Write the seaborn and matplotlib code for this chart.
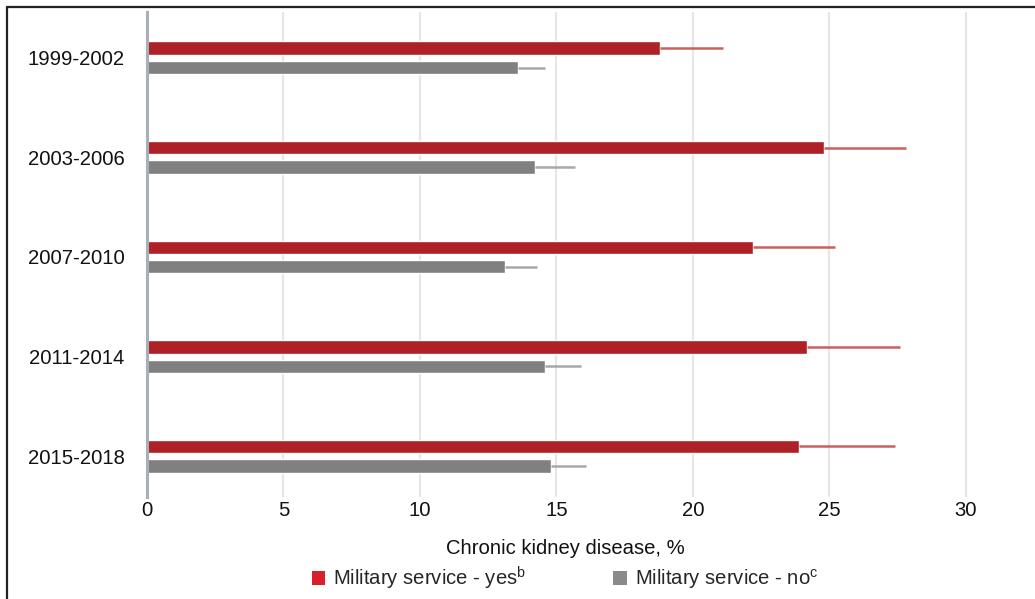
import matplotlib
matplotlib.use("Agg")
import matplotlib.pyplot as plt
import seaborn as sns
import pandas as pd
import numpy as np
from matplotlib.patches import Patch
from matplotlib.lines import Line2D

periods = ["1999-2002", "2003-2006", "2007-2010", "2011-2014", "2015-2018"]
series_names = ["Military service - yes", "Military service - no"]
yes_values = [18.8, 24.8, 22.2, 24.2, 23.9]
yes_upper = [21.1, 27.8, 25.2, 27.6, 27.4]
no_values = [13.6, 14.2, 13.1, 14.6, 14.8]
no_upper = [14.6, 15.7, 14.3, 15.9, 16.1]
x_ticks = [0, 5, 10, 15, 20, 25, 30]
legend_labels = [r"Military service - yes$^{\mathrm{b}}$", r"Military service - no$^{\mathrm{c}}$"]

sns.set_theme(style="white")
plt.rcParams["font.family"] = ["Liberation Sans", "DejaVu Sans"]
plt.rcParams["mathtext.fontset"] = "custom"
plt.rcParams["mathtext.rm"] = "Liberation Sans"

df = pd.DataFrame({
    "period": periods * 2,
    "group": [series_names[0]] * len(periods) + [series_names[1]] * len(periods),
    "value": yes_values + no_values,
})

bar_colors = ["#AE2126", "#808080"]
err_colors = ["#CC5E5E", "#A8A8A8"]
legend_colors = ["#D8202A", "#8A8A8A"]
FS = 14.6

W, H = 1035, 599
fig = plt.figure(figsize=(W / 100, H / 100), dpi=100)
ax = fig.add_axes([147 / W, 1 - 497 / H, 887 / W, 485 / H])

sns.barplot(data=df, y="period", x="value", hue="group", orient="h",
            palette=bar_colors, saturation=1, width=0.39, gap=0.31, legend=False, ax=ax,
            order=periods, hue_order=series_names, errorbar=None)

uppers = [yes_upper, no_upper]
vals = [yes_values, no_values]
bar_containers = list(ax.containers)
for k, cont in enumerate(bar_containers):
    ys = [p.get_y() + p.get_height() / 2 for p in cont.patches]
    errs = np.array(uppers[k]) - np.array(vals[k])
    ax.errorbar(vals[k], ys, xerr=[np.zeros(len(errs)), errs], fmt="none",
                ecolor=err_colors[k], elinewidth=1.8, capsize=0, zorder=1)

ax.set_xlim(0, 32.5)
ax.set_ylim(4.41, -0.46)
ax.set_xticks(x_ticks)
ax.set_xticklabels([str(t) for t in x_ticks])
ax.grid(axis="x", color="#E6E6E6", linewidth=1.6)
ax.set_axisbelow(True)
for s in ["top", "right", "bottom"]:
    ax.spines[s].set_visible(False)
ax.spines["left"].set_color("#A8AFBC")
ax.spines["left"].set_linewidth(2.2)
ax.tick_params(axis="y", length=0, pad=16.0, labelsize=FS, labelcolor="#111111")
ax.tick_params(axis="x", length=0, pad=3, labelsize=FS, labelcolor="#111111")
ax.set_ylabel("")
ax.set_xlabel("Chronic kidney disease, %", fontsize=FS, color="#111111")
ax.xaxis.set_label_coords((565 - 147) / 887, -0.086)

handles = [Patch(facecolor=c, edgecolor="none") for c in legend_colors]
fig.legend(handles, legend_labels, loc="center", bbox_to_anchor=(565 / W, 1 - 578 / H),
           ncol=2, frameon=False, fontsize=FS, handlelength=0.65, handleheight=0.65,
           handletextpad=0.4, columnspacing=4.3, borderpad=0)

fig.add_artist(Line2D([7 / W, 1], [1 - 7 / H, 1 - 7 / H], color="#222222", linewidth=1.6,
                      transform=fig.transFigure))
fig.add_artist(Line2D([7 / W, 7 / W], [0, 1 - 7 / H], color="#222222", linewidth=1.6,
                      transform=fig.transFigure))

fig.savefig("out.png", dpi=100)
